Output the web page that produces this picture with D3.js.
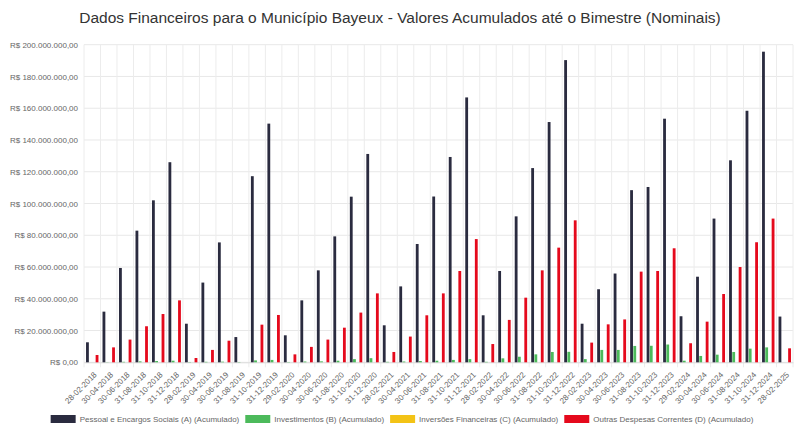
<!DOCTYPE html>
<html>
<head>
<meta charset="utf-8">
<script src="https://cdn.jsdelivr.net/npm/d3@7"></script>
<style>
  body { margin: 0; background: #fff; }
  text { font-family: "Liberation Sans", Arial, sans-serif; }
</style>
</head>
<body>
<div id="chart"></div>
<script>
'use strict';

// categorias (bimestres)
const categories = [
  '28-02-2018', '30-04-2018', '30-06-2018', '31-08-2018', '31-10-2018', '31-12-2018',
  '28-02-2019', '30-04-2019', '30-06-2019', '31-08-2019', '31-10-2019', '31-12-2019',
  '29-02-2020', '30-04-2020', '30-06-2020', '31-08-2020', '31-10-2020', '31-12-2020',
  '28-02-2021', '30-04-2021', '30-06-2021', '31-08-2021', '31-10-2021', '31-12-2021',
  '28-02-2022', '30-04-2022', '30-06-2022', '31-08-2022', '31-10-2022', '31-12-2022',
  '28-02-2023', '30-04-2023', '30-06-2023', '31-08-2023', '31-10-2023', '31-12-2023',
  '29-02-2024', '30-04-2024', '30-06-2024', '31-08-2024', '31-10-2024', '31-12-2024',
  '28-02-2025'
];

// valores em milhões de R$
const pessoal = [
  12.6, 31.9, 59.4, 82.9, 102.0, 126.0,
  24.3, 50.2, 75.5, 15.9, 117.2, 150.3,
  17.0, 39.0, 57.9, 79.3, 104.3, 131.2,
  23.3, 47.8, 74.5, 104.4, 129.3, 166.8,
  29.6, 57.5, 91.9, 122.3, 151.3, 190.3,
  24.3, 46.0, 55.9, 108.4, 110.4, 153.4,
  29.0, 53.9, 90.5, 127.2, 158.4, 195.6,
  28.8
];
const investimentos = [
  0.0, 0.1, 0.3, 0.6, 0.8, 1.0,
  0.2, 0.3, 0.4, 0.2, 1.2, 1.5,
  0.2, 0.5, 0.6, 1.0, 2.0, 2.6,
  0.3, 0.5, 0.8, 1.0, 1.5, 2.0,
  0.3, 2.5, 3.5, 5.0, 6.5, 6.6,
  2.0, 7.8, 7.8, 10.3, 10.4, 11.2,
  1.0, 4.0, 4.8, 6.5, 8.6, 9.4,
  0.0
];
const inversoes = [
  0, 0, 0, 0, 0, 0,
  0, 0, 0, 0, 0, 0,
  0, 0, 0, 0, 0, 0,
  0, 0, 0, 0, 0, 0,
  0, 0, 0, 0, 0, 0,
  0, 0, 0, 0, 0, 0,
  0, 0, 0, 0, 0, 0,
  0
];
const outras = [
  4.6, 9.4, 14.3, 22.7, 30.4, 39.0,
  2.7, 7.8, 13.6, 0.0, 23.7, 29.8,
  5.0, 9.7, 14.3, 21.8, 31.3, 43.4,
  6.5, 16.2, 29.6, 43.4, 57.5, 77.6,
  11.5, 26.7, 40.7, 57.9, 72.2, 89.4,
  12.4, 23.9, 27.0, 57.1, 57.5, 71.8,
  12.0, 25.6, 43.0, 60.0, 75.6, 90.5,
  8.8
];

const seriesNames = [
  'Pessoal e Encargos Sociais (A) (Acumulado)',
  'Investimentos (B) (Acumulado)',
  'Inversões Financeiras (C) (Acumulado)',
  'Outras Despesas Correntes (D) (Acumulado)'
];
const seriesColors = ['#2a2b3f', '#4cba5b', '#f3c316', '#e5091c'];
const yTicks = [0, 20, 40, 60, 80, 100, 120, 140, 160, 180, 200];
const MILHAO = 1e6;

const titleText = 'Dados Financeiros para o Município Bayeux - Valores Acumulados até o Bimestre (Nominais)';

const width = 800, height = 432;
const margin = {top: 44.7, right: 7, bottom: 69.7, left: 84};
const innerW = width - margin.left - margin.right;
const innerH = height - margin.top - margin.bottom;

const ptBR = d3.formatLocale({
  decimal: ',', thousands: '.', grouping: [3], currency: ['R$ ', '']
});
const moeda = ptBR.format('$,.2f');

const allSeries = [pessoal, investimentos, inversoes, outras];
const rows = categories.map((c, i) => ({
  cat: c,
  values: allSeries.map((s, k) => ({key: k, value: s[i] * MILHAO}))
}));

const svg = d3.select('#chart')
  .append('svg')
    .attr('width', width)
    .attr('height', height);

svg.append('text')
  .attr('x', width / 2)
  .attr('y', 23)
  .attr('text-anchor', 'middle')
  .attr('font-size', 15.5)
  .attr('fill', '#333')
  .text(titleText);

const g = svg.append('g')
  .attr('transform', `translate(${margin.left},${margin.top})`);

const x = d3.scaleBand()
  .domain(categories)
  .range([0, innerW])
  .paddingInner(0)
  .paddingOuter(0);

const xSub = d3.scaleBand()
  .domain(d3.range(allSeries.length))
  .range([x.bandwidth() * 0.1, x.bandwidth() * 0.9])
  .padding(0.12);

const y = d3.scaleLinear()
  .domain([0, 200 * MILHAO])
  .range([innerH, 0]);

// grade
g.append('g')
  .selectAll('line')
  .data(yTicks)
  .join('line')
    .attr('x1', 0)
    .attr('x2', innerW)
    .attr('y1', d => y(d * MILHAO))
    .attr('y2', d => y(d * MILHAO))
    .attr('stroke', '#e8e8e8')
    .attr('stroke-width', 1);

g.append('g')
  .selectAll('line')
  .data(d3.range(categories.length + 1))
  .join('line')
    .attr('x1', i => i < categories.length ? x(categories[i]) : innerW)
    .attr('x2', i => i < categories.length ? x(categories[i]) : innerW)
    .attr('y1', 0)
    .attr('y2', innerH + 5)
    .attr('stroke', '#ececec')
    .attr('stroke-width', 1);

// eixo y
const yAxis = g.append('g')
  .call(d3.axisLeft(y)
    .tickValues(yTicks.map(d => d * MILHAO))
    .tickFormat(moeda)
    .tickSize(0)
    .tickPadding(6));
yAxis.select('.domain').remove();
yAxis.selectAll('text')
  .attr('font-size', 8)
  .attr('fill', '#666')
  .attr('font-family', '"Liberation Sans", Arial, sans-serif');

// eixo x
const xAxis = g.append('g')
  .attr('transform', `translate(0,${innerH})`)
  .call(d3.axisBottom(x).tickSize(0).tickPadding(0));
xAxis.select('.domain')
  .attr('stroke', '#ddd');
xAxis.selectAll('text')
  .attr('font-size', 8)
  .attr('fill', '#666')
  .attr('font-family', '"Liberation Sans", Arial, sans-serif')
  .attr('text-anchor', 'end')
  .attr('dy', 0)
  .attr('transform', 'translate(5,13) rotate(-45)');

// barras
g.append('g')
  .selectAll('g')
  .data(rows)
  .join('g')
    .attr('transform', d => `translate(${x(d.cat)},0)`)
  .selectAll('rect')
  .data(d => d.values)
  .join('rect')
    .attr('x', d => xSub(d.key))
    .attr('width', xSub.bandwidth())
    .attr('y', d => y(d.value))
    .attr('height', d => innerH - y(d.value))
    .attr('fill', d => seriesColors[d.key]);

// legenda
const legend = svg.append('g')
  .attr('transform', 'translate(0,419)');
const items = legend.selectAll('g')
  .data(seriesNames)
  .join('g');
items.append('rect')
  .attr('y', -4)
  .attr('width', 25)
  .attr('height', 8)
  .attr('fill', (d, i) => seriesColors[i]);
items.append('text')
  .attr('x', 29)
  .attr('y', 3)
  .attr('font-size', 8)
  .attr('fill', '#666')
  .text(d => d);

let offsets = [];
let total = 0;
items.each(function (d, i) {
  const w = 29 + this.querySelector('text').getComputedTextLength();
  offsets.push(total);
  total += w + (i < seriesNames.length - 1 ? 6 : 0);
});
const startX = 402 - total / 2;
items.attr('transform', (d, i) => `translate(${startX + offsets[i]},0)`);
</script>
</body>
</html>
